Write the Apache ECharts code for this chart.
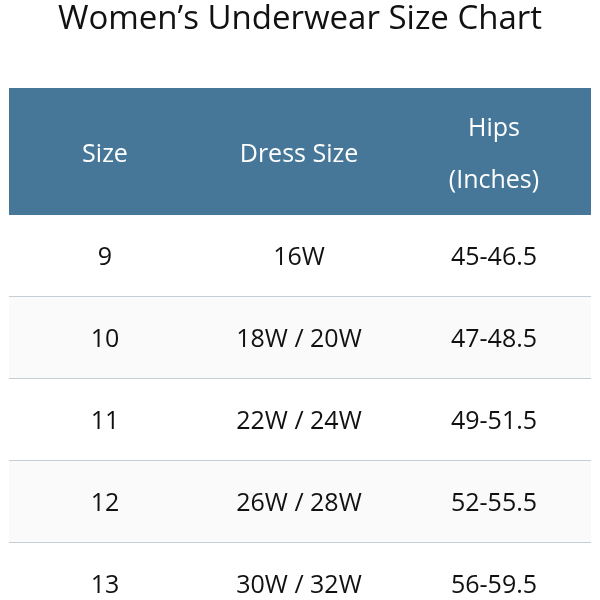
<!DOCTYPE html>
<html>
<head>
<meta charset="utf-8">
<script src="https://cdn.jsdelivr.net/npm/echarts@6/dist/echarts.min.js"></script>
<style>html,body{margin:0;padding:0;background:#fff}#main{width:600px;height:600px}</style>
</head>
<body>
<div id="main"></div>
<script>
var headers = ['Size', 'Dress Size', 'Hips\n(Inches)'];
var sizes = ['9', '10', '11', '12', '13'];
var dressSizes = ['16W', '18W / 20W', '22W / 24W', '26W / 28W', '30W / 32W'];
var hips = ['45-46.5', '47-48.5', '49-51.5', '52-55.5', '56-59.5'];

// column edges and row heights in axis units (pixels inside the grid)
var colEdges = [0, 192, 388, 582];
var headerH = 127, rowH = 82;

var cells = [];
headers.forEach(function(h, c) { cells.push([c, -1, h]); });
sizes.forEach(function(s, r) {
  cells.push([0, r, s]);
  cells.push([1, r, dressSizes[r]]);
  cells.push([2, r, hips[r]]);
});

function renderCell(params, api) {
  var c = api.value(0), r = api.value(1), txt = api.value(2);
  var y0 = r < 0 ? 0 : headerH + r * rowH;
  var y1 = r < 0 ? headerH : y0 + rowH;
  var p0 = api.coord([colEdges[c], y0]);
  var p1 = api.coord([colEdges[c + 1], y1]);
  var isHead = r < 0;
  var children = [{
    type: 'rect',
    shape: { x: p0[0], y: p0[1], width: p1[0] - p0[0], height: p1[1] - p0[1] },
    style: { fill: isHead ? '#467799' : (r % 2 ? '#fafafa' : '#ffffff') }
  }];
  if (!isHead) {
    children.push({
      type: 'line',
      shape: { x1: p0[0], y1: p1[1], x2: p1[0], y2: p1[1] },
      style: { stroke: '#b2c0c9', lineWidth: 1.5 }
    });
  }
  children.push({
    type: 'text',
    style: {
      x: (p0[0] + p1[0]) / 2, y: (p0[1] + p1[1]) / 2 + (isHead ? 3 : 2),
      text: txt, fill: isHead ? '#ffffff' : '#111111',
      font: '25px "Open Sans", sans-serif', lineHeight: 52,
      align: 'center', verticalAlign: 'middle'
    }
  });
  return { type: 'group', children: children };
}

var chart = echarts.init(document.getElementById('main'));
chart.setOption({
  animation: false,
  title: {
    text: 'Women\u2019s Underwear Size Chart', left: 'center', top: -2,
    textStyle: { fontSize: 33, fontWeight: 'normal', color: '#111', fontFamily: '"Open Sans", sans-serif' }
  },
  grid: { left: 9, right: 9, top: 88, bottom: 0 },
  xAxis: { type: 'value', min: 0, max: 582, show: false },
  yAxis: { type: 'value', min: 0, max: 512, inverse: true, show: false },
  series: [{
    type: 'custom',
    renderItem: renderCell,
    data: cells,
    clip: true
  }]
});
</script>
</body>
</html>
